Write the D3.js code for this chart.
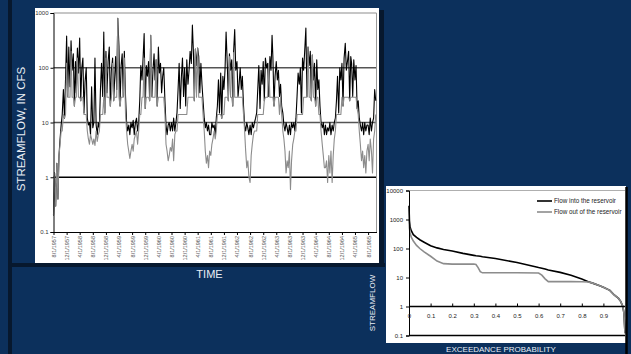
<!DOCTYPE html>
<html>
<head>
<meta charset="utf-8">
<script src="https://cdn.jsdelivr.net/npm/d3@7"></script>
<style>
  html, body { margin: 0; padding: 0; background: #0c305c; }
  svg { display: block; font-family: "Liberation Sans", Arial, Helvetica, sans-serif; }
</style>
</head>
<body>
<svg id="chart" width="631" height="354"></svg>
<script>
// Ten-day (1st, 11th, 21st) streamflow values, cfs, starting 1 Aug 1957.
// One line per water year, Aug..Jul.
const inflow = [
  0.2, 1.2, 0.3,  1.8, 0.4, 2.5,  5, 9, 14,  40, 12, 65,  380, 30, 240,  45, 310, 90,  180, 20, 130,  35, 230, 80,  350, 25, 100,  150, 15, 55,  100, 12, 9,  10, 6, 45,
  8, 10, 150,  9, 6, 10,  8, 40, 120,  30, 450, 15,  200, 35, 130,  240, 20, 90,  150, 25, 70,  160, 40, 800,  250, 20, 110,  180, 30, 200,  30, 10, 7,  9, 6, 10,
  8, 11, 6,  10, 12, 7,  10, 25, 110,  60, 150, 420,  18, 110, 70,  130, 25, 390,  30, 90, 180,  60, 140, 20,  240, 80, 120,  35, 70, 100,  25, 9, 6,  9, 10, 7,
  10, 7, 12,  7, 10, 15,  40, 120, 18,  70, 150, 30,  100, 20, 140,  50, 90, 200,  120, 600, 180,  25, 220, 110,  230, 160, 35,  120, 50, 25,  12, 8, 10,  7, 9, 6,
  6, 10, 8,  9, 6, 12,  20, 60, 15,  80, 12, 70,  40, 90, 450,  120, 25, 180,  90, 140, 20,  200, 500, 90,  130, 30, 50,  100, 40, 70,  20, 9, 7,  10, 8, 6,
  9, 6, 10,  8, 10, 12,  15, 40, 110,  18, 90, 50,  130, 25, 150,  100, 120, 30,  160, 90, 390,  150, 20, 70,  130, 60, 90,  30, 50, 20,  15, 9, 7,  10, 8, 6,
  9, 6, 10,  8, 10, 7,  12, 30, 80,  50, 100, 15,  150, 90, 200,  530, 30, 240,  110, 200, 25,  170, 60, 120,  20, 140, 40,  60, 20, 10,  8, 10, 6,  9, 6, 8,
  7, 10, 6,  9, 7, 10,  12, 25, 70,  15, 100, 60,  120, 20, 150,  280, 90, 130,  200, 25, 160,  120, 30, 140,  60, 110, 18,  25, 12, 9,  7, 10, 6,  10, 7, 9,
  9, 6, 12,  7, 10, 12,  40, 25
];

const outflow = [
  0.2, 1.2, 0.3,  1.8, 0.4, 2.5,  4, 7, 7,  14, 12, 14,  120, 29, 29,  29, 200, 29,  29, 20, 29,  29, 150, 29,  29, 25, 29,  29, 14, 14,  14, 7, 5,  4, 6, 5,
  4, 5, 3.8,  7, 4.5, 6,  7, 14, 14,  14, 29, 14,  150, 29, 29,  29, 20, 29,  120, 25, 29,  29, 29, 800,  29, 20, 29,  29, 29, 150,  14, 7, 4,  3, 2.2, 3,
  4, 3, 5,  6, 7, 4,  7, 14, 14,  29, 29, 150,  18, 29, 29,  29, 25, 390,  29, 29, 29,  29, 140, 20,  29, 29, 29,  29, 29, 29,  14, 4, 3,  2, 2.5, 3.5,
  3, 5, 2,  6, 7, 7,  14, 14, 14,  14, 14, 14,  14, 14, 14,  29, 29, 29,  29, 29, 29,  25, 220, 29,  230, 29, 29,  29, 29, 14,  7, 3, 1.8,  2.5, 1.5, 3,
  2.5, 4, 5,  7, 5, 7,  14, 14, 14,  14, 12, 14,  14, 29, 29,  29, 25, 160,  29, 29, 20,  190, 29, 29,  29, 29, 29,  29, 29, 29,  14, 7, 3,  1.5, 2, 1,
  0.8, 2.5, 4,  6, 7, 7,  7, 14, 14,  14, 14, 14,  14, 25, 29,  29, 29, 120,  29, 29, 29,  29, 20, 29,  29, 29, 29,  14, 29, 14,  7, 5, 3,  1.2, 2, 1.5,
  3, 0.6, 2,  4, 5, 7,  7, 14, 14,  14, 14, 14,  14, 29, 29,  29, 29, 240,  29, 29, 25,  170, 29, 29,  20, 29, 29,  14, 14, 7,  4, 2.5, 1.5,  1.5, 2, 0.8,
  2.5, 1.2, 3,  0.8, 2.5, 5,  7, 14, 14,  14, 14, 14,  29, 20, 29,  29, 29, 29,  29, 25, 29,  29, 29, 29,  29, 29, 18,  14, 7, 4,  2, 3, 1.5,  2.5, 1.2, 3,
  4, 2, 5,  3, 1.2, 5,  7, 14
];

// Dated tick labels along the time axis
const timeTickLabels = [
  "8/1/1957", "12/1/1957", "4/1/1958", "8/1/1958", "12/1/1958", "4/1/1959", "8/1/1959",
  "12/1/1959", "4/1/1960", "8/1/1960", "12/1/1960", "4/1/1961", "8/1/1961", "12/1/1961",
  "4/1/1962", "8/1/1962", "12/1/1962", "4/1/1963", "8/1/1963", "12/1/1963", "4/1/1964",
  "8/1/1964", "12/1/1964", "4/1/1965", "8/1/1965"
];
const flowTicks = [0.1, 1, 10, 100, 1000];

// Flow-duration curves
const exceedance = [0, 0.002, 0.005, 0.01, 0.02, 0.035, 0.05, 0.07, 0.1, 0.13, 0.16, 0.2, 0.25, 0.3, 0.31, 0.32, 0.33, 0.34, 0.4, 0.5, 0.6, 0.615, 0.63, 0.645, 0.7, 0.75, 0.8, 0.83, 0.85, 0.88, 0.9, 0.93, 0.95, 0.97, 0.98, 0.99, 0.995, 1];
const inflowDuration = [3000, 900, 550, 420, 300, 240, 200, 165, 125, 105, 92, 82, 68, 58, 56, 55, 54, 52, 45, 33, 22, 21, 19.5, 18, 15, 12, 8.8, 7.2, 6.4, 5.3, 4.6, 3.6, 2.5, 1.9, 1.5, 1.0, 0.6, 0.12];
const outflowDuration = [1000, 500, 350, 250, 180, 128, 100, 76, 54, 37, 30, 29, 29, 29, 28, 22, 16, 14.5, 14.5, 14.5, 14.3, 12, 9, 7.2, 7.2, 7.2, 7.1, 7.0, 6.4, 5.3, 4.6, 3.6, 2.5, 1.9, 1.5, 1.0, 0.6, 0.12];
const probTicks = [0, 0.1, 0.2, 0.3, 0.4, 0.5, 0.6, 0.7, 0.8, 0.9];
const durationTicks = [0.1, 1, 10, 100, 1000, 10000];
const legendItems = [
  { label: "Flow into the reservoir", color: "#000000" },
  { label: "Flow out of the reservoir", color: "#8c8c8c" }
];

const svg = d3.select("#chart");
const NAVY = "#0c305c", SHADE = "#07182e", LABEL = "#e9eef4";

svg.append("rect").attr("width", 631).attr("height", 354).attr("fill", NAVY);

// dark frame strips around the time-series panel
svg.append("rect").attr("x", 8).attr("y", 0).attr("width", 4).attr("height", 354).attr("fill", SHADE);
svg.append("rect").attr("x", 8).attr("y", 263).attr("width", 377).attr("height", 4).attr("fill", SHADE);
svg.append("rect").attr("x", 379).attr("y", 10).attr("width", 5).attr("height", 257).attr("fill", SHADE);

/* ---------------- time-series panel ---------------- */
svg.append("rect").attr("x", 35).attr("y", 8).attr("width", 344).attr("height", 255).attr("fill", "#ffffff");

const parseTick = d3.timeParse("%m/%d/%Y");
const tickDates = timeTickLabels.map(parseTick);
const dekadDay = [1, 11, 21];
const series = inflow.map((v, i) => ({
  date: new Date(1957, 7 + Math.floor(i / 3), dekadDay[i % 3]),
  inflow: v,
  outflow: outflow[i]
}));

const x = d3.scaleTime().domain([new Date(1957, 7, 1), new Date(1965, 9, 18)]).range([53.5, 376.5]);
const y = d3.scaleLog().domain([0.1, 1000]).range([232, 13]);

const grid = svg.append("g");
[[1000, "#8d8d8d", 1], [100, "#555555", 1.3], [10, "#555555", 1.3], [1, "#000000", 1.3]].forEach(([v, c, w]) => {
  grid.append("line")
    .attr("x1", x.range()[0]).attr("x2", x.range()[1])
    .attr("y1", y(v)).attr("y2", y(v))
    .attr("stroke", c).attr("stroke-width", w);
});
grid.append("line")
  .attr("x1", x.range()[1]).attr("x2", x.range()[1])
  .attr("y1", y(1000)).attr("y2", y(0.1))
  .attr("stroke", "#9a9a9a").attr("stroke-width", 1);

const flowLine = key => d3.line().x(d => x(d.date)).y(d => y(d[key]));
svg.append("path").datum(series).attr("d", flowLine("inflow"))
  .attr("fill", "none").attr("stroke", "#000000").attr("stroke-width", 1.1).attr("stroke-linejoin", "round");
svg.append("path").datum(series).attr("d", flowLine("outflow"))
  .attr("fill", "none").attr("stroke", "#8c8c8c").attr("stroke-width", 1.1).attr("stroke-linejoin", "round");

svg.append("g").attr("transform", `translate(${x.range()[0]},0)`)
  .call(d3.axisLeft(y).tickValues(flowTicks).tickFormat(d => String(d)).tickSize(3).tickPadding(2))
  .call(g => g.selectAll("path,line").attr("stroke", "#000"))
  .call(g => g.selectAll("text").attr("font-size", 6).attr("fill", "#333"));

svg.append("g").attr("transform", `translate(0,${y(0.1)})`)
  .call(d3.axisBottom(x).tickValues(tickDates).tickFormat(d3.timeFormat("%-m/%-d/%Y")).tickSizeInner(3).tickSizeOuter(0))
  .call(g => g.selectAll("path,line").attr("stroke", "#000"))
  .call(g => g.selectAll("text")
    .attr("transform", "rotate(-90)")
    .attr("x", -4).attr("y", 0).attr("dy", "0.35em")
    .attr("text-anchor", "end")
    .attr("font-size", 5.5).attr("fill", "#555"));

svg.append("text")
  .attr("transform", "translate(20.5,129) rotate(-90)")
  .attr("text-anchor", "middle").attr("dy", "0.35em")
  .attr("font-size", 11.5).attr("fill", LABEL)
  .text("STREAMFLOW, IN CFS");
svg.append("text")
  .attr("x", 209.5).attr("y", 278)
  .attr("text-anchor", "middle")
  .attr("font-size", 11).attr("fill", LABEL)
  .text("TIME");

/* ---------------- flow-duration panel ---------------- */
svg.append("rect").attr("x", 386).attr("y", 186).attr("width", 240).attr("height", 157).attr("fill", "#ffffff");

const xr = d3.scaleLinear().domain([0, 1]).range([409, 625]);
const yr = d3.scaleLog().domain([0.1, 10000]).range([335.5, 190.5]);

svg.append("line").attr("x1", xr(0)).attr("x2", xr(1)).attr("y1", yr(10000)).attr("y2", yr(10000))
  .attr("stroke", "#9a9a9a").attr("stroke-width", 0.8);

const durLine = vals => d3.line().x(p => xr(p)).y((p, i) => yr(vals[i]));
svg.append("path").datum(exceedance).attr("d", durLine(inflowDuration))
  .attr("fill", "none").attr("stroke", "#000000").attr("stroke-width", 1.6);
svg.append("path").datum(exceedance).attr("d", durLine(outflowDuration))
  .attr("fill", "none").attr("stroke", "#8c8c8c").attr("stroke-width", 1.6);

svg.append("line").attr("x1", xr(0)).attr("x2", xr(1)).attr("y1", yr(1)).attr("y2", yr(1))
  .attr("stroke", "#000").attr("stroke-width", 1.3);
svg.append("line").attr("x1", xr(0)).attr("x2", xr(1)).attr("y1", yr(0.1)).attr("y2", yr(0.1))
  .attr("stroke", "#000").attr("stroke-width", 1.3);
svg.append("line").attr("x1", 626.5).attr("x2", 626.5).attr("y1", 187).attr("y2", 354)
  .attr("stroke", "#000").attr("stroke-width", 2.5);

svg.append("g").attr("transform", `translate(${xr(0)},0)`)
  .call(d3.axisLeft(yr).tickValues(durationTicks).tickFormat(d => String(d)).tickSize(3).tickPadding(3))
  .call(g => g.selectAll("path,line").attr("stroke", "#000"))
  .call(g => g.selectAll("text").attr("font-size", 6).attr("fill", "#222"));

svg.append("g").attr("transform", `translate(0,${yr(1)})`)
  .call(d3.axisBottom(xr).tickValues(probTicks).tickFormat(d => String(d)).tickSizeInner(-3).tickSizeOuter(0).tickPadding(7))
  .call(g => g.select(".domain").remove())
  .call(g => g.selectAll("line").attr("stroke", "#000"))
  .call(g => g.selectAll("text").attr("font-size", 6).attr("fill", "#222"));

const legend = svg.append("g");
legendItems.forEach((item, i) => {
  const ly = 201 + i * 11;
  legend.append("line").attr("x1", 537).attr("x2", 552).attr("y1", ly).attr("y2", ly)
    .attr("stroke", item.color).attr("stroke-width", 1.6);
  legend.append("text").attr("x", 554).attr("y", ly).attr("dy", "0.35em")
    .attr("font-size", 6.3).attr("fill", "#222").text(item.label);
});

svg.append("text")
  .attr("transform", "translate(372,303) rotate(-90)")
  .attr("text-anchor", "middle").attr("dy", "0.35em")
  .attr("font-size", 8).attr("fill", LABEL)
  .text("STREAMFLOW");
svg.append("text")
  .attr("x", 501).attr("y", 351.5)
  .attr("text-anchor", "middle")
  .attr("font-size", 8).attr("fill", LABEL)
  .text("EXCEEDANCE PROBABILITY");
</script>
</body>
</html>
